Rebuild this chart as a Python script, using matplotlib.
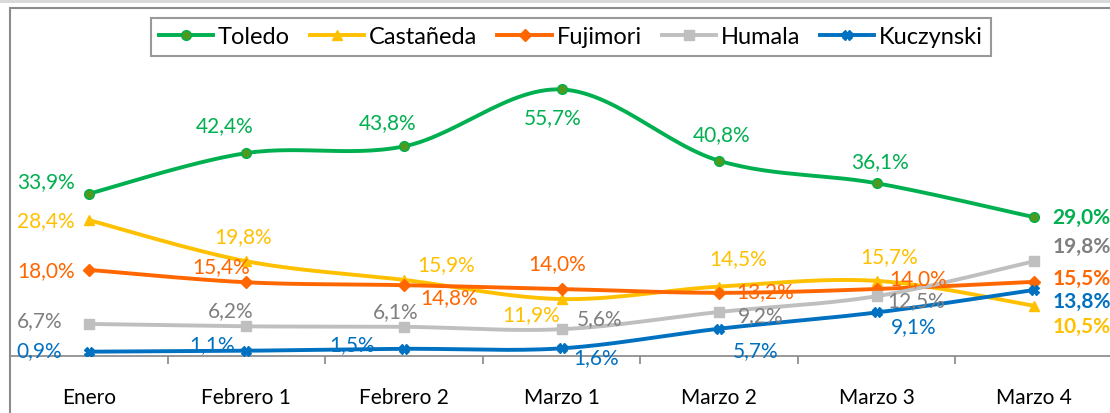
import matplotlib.pyplot as plt
import numpy as np
from matplotlib.lines import Line2D
from matplotlib.patches import Rectangle

plt.rcParams['font.family'] = ['Lato', 'DejaVu Sans']

# data (%)
categories = ['Enero', 'Febrero 1', 'Febrero 2', 'Marzo 1', 'Marzo 2', 'Marzo 3', 'Marzo 4']
toledo = [33.9, 42.4, 43.8, 55.7, 40.8, 36.1, 29.0]
castaneda = [28.4, 19.8, 15.9, 11.9, 14.5, 15.7, 10.5]
fujimori = [18.0, 15.4, 14.8, 14.0, 13.2, 14.0, 15.5]
humala = [6.7, 6.2, 6.1, 5.6, 9.2, 12.5, 19.8]
kuczynski = [0.9, 1.1, 1.5, 1.6, 5.7, 9.1, 13.8]

# series: name, values, line colour, label colour, marker, marker size, marker face
series = [
    ('Toledo', toledo, '#00B050', '#00B050', 'o', 7, '#4E9A1E'),
    ('Castañeda', castaneda, '#FFC000', '#FFC000', '^', 7, '#FFC000'),
    ('Fujimori', fujimori, '#FF6600', '#FF6600', 'D', 6, '#FF6600'),
    ('Humala', humala, '#BFBFBF', '#7F7F7F', 's', 6.5, '#BFBFBF'),
    ('Kuczynski', kuczynski, '#0070C0', '#0070C0', 'X', 7, '#0070C0'),
]

# label offsets in pixels (dx, dy) from each point; last column is bold, left aligned
offsets = {
    'Toledo':    [(-72, 13), (-22, 28), (-16, 24), (-9, -28), (3, 27), (3, 22), (18, 0)],
    'Castañeda': [(-72, 0), (-3, 25), (42, 16), (-30, -15), (19, 29), (12, 25), (18, -20)],
    'Fujimori':  [(-72, 0), (-25, 16), (45, -12), (-4, 26), (46, 2), (41, 11), (18, 4)],
    'Humala':    [(-72, 4), (-16, 16), (-8, 16), (38, 11), (42, -3), (39, -4), (18, 15)],
    'Kuczynski': [(-72, 2), (-34, 7), (-52, 5), (35, -9), (37, -21), (37, -14), (18, -11)],
}


def smooth(y, n=30):
    # Excel-like smoothed line: cubic bezier with catmull-rom control points
    y = np.asarray(y, float)
    x = np.arange(len(y), dtype=float)
    xs, ys = [], []
    for i in range(len(y) - 1):
        p0 = max(i - 1, 0)
        p3 = min(i + 2, len(y) - 1)
        c1x = x[i] + (x[i + 1] - x[p0]) / 6
        c1y = y[i] + (y[i + 1] - y[p0]) / 6
        c2x = x[i + 1] - (x[p3] - x[i]) / 6
        c2y = y[i + 1] - (y[p3] - y[i]) / 6
        t = np.linspace(0, 1, n)
        a, b, c, d = (1 - t) ** 3, 3 * (1 - t) ** 2 * t, 3 * (1 - t) * t ** 2, t ** 3
        xs.append(a * x[i] + b * c1x + c * c2x + d * x[i + 1])
        ys.append(a * y[i] + b * c1y + c * c2y + d * y[i + 1])
    return np.concatenate(xs), np.concatenate(ys)


W, H = 1110, 414
fig = plt.figure(figsize=(W / 100, H / 100), dpi=100)

# chart frame
fig.patches.append(Rectangle((0, 1 - 4 / H), 1, 4 / H, transform=fig.transFigure,
                             facecolor='#D9D9D9', edgecolor='none'))
fig.patches.append(Rectangle((10 / W, -0.1), 1.2, 1.1 - 9 / H, transform=fig.transFigure,
                             facecolor='none', edgecolor='#8C8C8C', lw=1.5))

top_px, axis_px = 22, 357
ax = fig.add_axes([10 / W, 1 - axis_px / H, 1103 / W, (axis_px - top_px) / H])
ax.set_xlim(-0.5, 6.5)
ax.set_ylim(0, 70)
ax.patch.set_alpha(0)

handles = []
for name, vals, col, lcol, mk, ms, mfc in series:
    sx, sy = smooth(vals)
    ax.plot(sx, sy, color=col, lw=2.8, solid_capstyle='round', zorder=3)
    ax.plot(range(len(vals)), vals, ls='none', marker=mk, ms=ms, color=col,
            mfc=mfc, mec=col, zorder=4)
    handles.append(Line2D([], [], color=col, lw=2.8, marker=mk, ms=ms, mfc=mfc, mec=col))
    for i, v in enumerate(vals):
        dx, dy = offsets[name][i]
        last = i == len(vals) - 1
        ax.annotate(f'{v:.1f}%'.replace('.', ','), (i, v), xytext=(dx, dy),
                    textcoords='offset pixels',
                    ha='left' if (last or i == 0) else 'center', va='center',
                    color=lcol, fontsize=15, fontweight='bold' if last else 'normal',
                    zorder=5, annotation_clip=False)

for s in ['top', 'right', 'left']:
    ax.spines[s].set_visible(False)
ax.spines['bottom'].set_color('#868686')
ax.spines['bottom'].set_linewidth(1.2)
ax.set_yticks([])
ax.set_xticks(range(len(categories)))
ax.set_xticklabels(categories, fontsize=15, color='black')
ax.tick_params(axis='x', which='major', length=0, pad=22)
ax.set_xticks(np.arange(-0.5, 7, 1), minor=True)
ax.tick_params(axis='x', which='minor', length=6, width=1.2, color='#868686', direction='out')

leg = fig.legend(handles, [s[0] for s in series], ncol=5, loc='center',
                 bbox_to_anchor=(571 / W, 1 - 38 / H), fontsize=17, frameon=True,
                 fancybox=False, edgecolor='#808080', handlelength=2.3,
                 handletextpad=0.2, columnspacing=0.85, borderpad=0.35)
leg.get_frame().set_linewidth(1.5)

fig.savefig('out.png', dpi=100)
